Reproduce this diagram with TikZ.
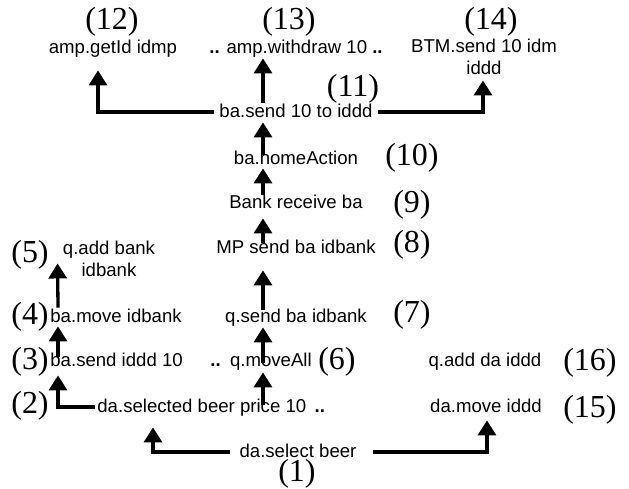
\documentclass[tikz,border=0pt]{standalone}
\usepackage{fontspec}
\setmainfont{Liberation Serif}
\setsansfont{Liberation Sans}
\usetikzlibrary{arrows.meta}

\tikzset{
	act/.style={font=\sffamily\fontsize{9.3}{11}\selectfont, inner sep=0pt, text height=7pt, text depth=2pt},
	acttwo/.style={font=\sffamily\fontsize{9.3}{11}\selectfont, inner sep=0pt, align=center},
	num/.style={font=\fontsize{16}{18}\selectfont, inner sep=0pt},
	flow/.style={line width=1.65pt, -{Triangle[width=9pt,length=7.5pt]}},
}

\begin{document}
\begin{tikzpicture}[x=0.5pt, y=-0.5pt]
	\useasboundingbox (0,0) rectangle (629,489);

	% actions
	\node[act]              (a1)  at (298,452) {da.select beer};
	\node[act, anchor=west] (a2)  at (97,407)  {da.selected beer price 10\hspace{0.45em}\textbf{..}};
	\node[act, anchor=west] (a3)  at (50,361)  {ba.send iddd 10};
	\node[act, anchor=west] (a4)  at (50,317)  {ba.move idbank};
	\node[acttwo, anchor=north] (a5) at (109,241) {q.add bank\\idbank};
	\node[act, anchor=west] (a6)  at (210,361) {\textbf{..}\hspace{0.5em}q.moveAll};
	\node[act]              (a7)  at (296,317) {q.send ba idbank};
	\node[act]              (a8)  at (296,248) {MP send ba idbank};
	\node[act]              (a9)  at (296,203) {Bank receive ba};
	\node[act]              (a10) at (296,159) {ba.homeAction};
	\node[act]              (a11) at (296,112) {ba.send 10 to iddd};
	\node[act]              (a12) at (113,48)  {amp.getId idmp};
	\node[act]              (a13) at (296,48)  {\textbf{..} amp.withdraw 10 \textbf{..}};
	\node[acttwo, anchor=north] (a14) at (484,39) {BTM.send 10 idm\\iddd};
	\node[act]              (a15) at (486,407) {da.move iddd};
	\node[act]              (a16) at (485,361) {q.add da iddd};

	% step numbers
	\node[num] (l1)  at (297,474) {(1)};
	\node[num] (l2)  at (30,406)  {(2)};
	\node[num] (l3)  at (30,362)  {(3)};
	\node[num] (l4)  at (30,317)  {(4)};
	\node[num] (l5)  at (30,255)  {(5)};
	\node[num] (l6)  at (337,362) {(6)};
	\node[num] (l7)  at (412,315) {(7)};
	\node[num] (l8)  at (412,245) {(8)};
	\node[num] (l9)  at (412,205) {(9)};
	\node[num] (l10) at (412,158) {(10)};
	\node[num] (l11) at (353,89)  {(11)};
	\node[num] (l12) at (112,22)  {(12)};
	\node[num] (l13) at (289,22)  {(13)};
	\node[num] (l14) at (491,22)  {(14)};
	\node[num] (l15) at (590,410) {(15)};
	\node[num] (l16) at (590,363) {(16)};

	% flows
	\draw[flow, shorten <=4.5pt, shorten >=5.5pt] (a1.west) -| ([xshift=28pt]a2.south west);
	\draw[flow, shorten <=8pt, shorten >=2pt] (a1.east) -| ([xshift=0.5pt]a15.south);
	\draw[flow, shorten <=1pt, shorten >=2.5pt] (a2.west) -| ([xshift=4pt]a3.south west);
	\draw[flow, shorten <=-2.5pt] ([xshift=4pt]a3.north west) -- ([xshift=4pt]a4.south west);
	\draw[flow] ([xshift=4pt]a4.north west) -- ([xshift=-2.5pt,yshift=7pt]a5.south west);
	\draw[flow, shorten <=-3.5pt, shorten >=1pt] ([xshift=83pt]a2.north west) -- ([xshift=26.5pt]a6.south west);
	\draw[flow, shorten <=-5.5pt, shorten >=0.5pt] ([xshift=26.5pt]a6.north west) -- ([xshift=-16.5pt]a7.south);
	\draw[flow, shorten <=-1pt, shorten >=6.5pt] ([xshift=-16.5pt]a7.north) -- ([xshift=-16.5pt]a8.south);
	\draw[flow, shorten <=-2pt, shorten >=3pt] ([xshift=-16.5pt]a8.north) -- ([xshift=-16.5pt]a9.south);
	\draw[flow, shorten <=-0.5pt] ([xshift=-16.5pt]a9.north) -- ([xshift=-16.5pt]a10.south);
	\draw[flow, shorten <=-2.5pt, shorten >=0.5pt] ([xshift=-16.5pt]a10.north) -- ([xshift=-16.5pt]a11.south);
	\draw[flow, shorten >=0.5pt] ([xshift=-16.5pt]a11.north) -- ([xshift=-16.5pt]a13.south);
	\draw[flow, shorten <=2.5pt, shorten >=6.5pt] (a11.west) -| ([xshift=-7.5pt]a12.south);
	\draw[flow, shorten <=2.5pt, shorten >=2.5pt] (a11.east) -| ([xshift=-0.5pt]a14.south);
\end{tikzpicture}
\end{document}
